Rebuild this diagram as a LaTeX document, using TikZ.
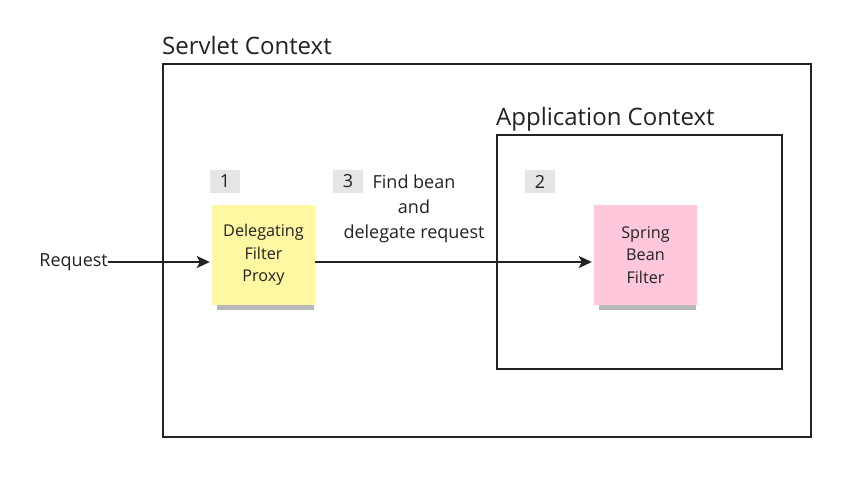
\documentclass[tikz,border=0pt]{standalone}
\usepackage{fontspec}
\setmainfont{Open Sans}
\usetikzlibrary{shadows, arrows.meta}
\usepackage{amsmath}

\definecolor{noteyellow}{HTML}{FFF7A1}
\definecolor{notepink}{HTML}{FFC7DC}
\definecolor{taggray}{HTML}{E5E5E5}
\definecolor{ink}{HTML}{222222}

\tikzset{
  ctxbox/.style={draw=ink, line width=1.6pt},
  ctxlabel/.style={anchor=base west, inner sep=0pt, font=\fontsize{24}{28}\selectfont, text=ink},
  note/.style={minimum width=103pt, minimum height=100pt, inner sep=2pt, align=center,
    font=\fontsize{16.2}{22.5}\selectfont, text=ink,
    drop shadow={shadow xshift=2pt, shadow yshift=-8pt, shadow scale=0.94, opacity=0.28, fill=black}},
  tag/.style={fill=taggray, minimum width=30pt, minimum height=23pt, inner sep=0pt,
    font=\fontsize{18}{20}\selectfont, text=ink},
  flow/.style={-{Stealth[length=13pt, width=12pt, inset=3pt]}, draw=ink, line width=1.6pt, shorten >=2pt}
}

\begin{document}
\begin{tikzpicture}[x=1pt, y=-1pt]
\useasboundingbox [fill=white] (0, 0) rectangle (858, 491);

\draw [ctxbox] (163, 64) rectangle (811, 437);
\node [ctxlabel] (servlet) at (162, 54) {Servlet Context};

\draw [ctxbox] (497, 135) rectangle (782, 369);
\node [ctxlabel] (appctx) at (496, 125) {Application Context};

\node [note, fill=noteyellow] (proxy) at (263.5, 255) {Delegating\\Filter\\Proxy};
\node [note, fill=notepink] (springbean) at (645.5, 255) {Spring\\Bean\\Filter};

\node [tag] (tag1) at (225, 181.5) {1};
\node [tag] (tag3) at (348, 181.5) {3};
\node [tag] (tag2) at (540, 181.5) {2};

\node [align=center, font=\fontsize{18}{25}\selectfont, text=ink, inner sep=0pt] (findbean)
  at (414, 209) {Find bean\\and\\delegate request};

\node [anchor=east, inner sep=0pt, font=\fontsize{18}{20}\selectfont, text=ink] (request) at (108, 262) {Request};

\draw [flow] (request.east) -- (proxy.west |- request.east);
\draw [flow] (proxy.east |- request.east) -- (springbean.west |- request.east);
\end{tikzpicture}
\end{document}
